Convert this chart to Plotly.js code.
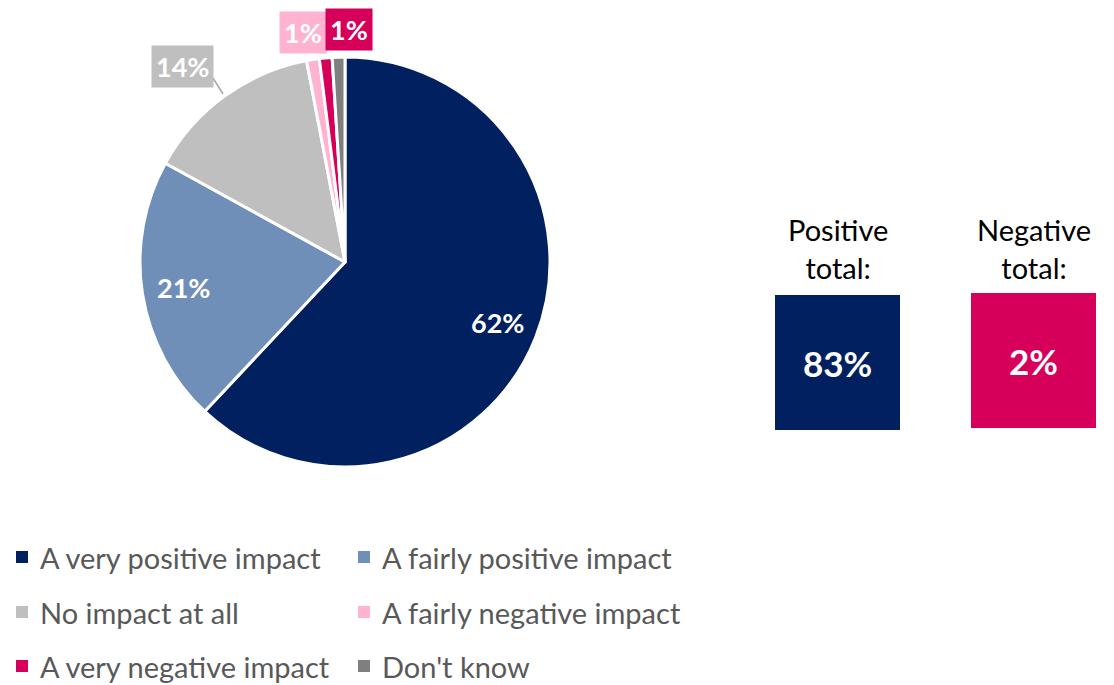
<!DOCTYPE html>
<html>
<head>
<meta charset="utf-8">
<script src="https://cdn.plot.ly/plotly-3.0.1.min.js"></script>
<style>html,body{margin:0;padding:0;background:#fff;}#chart{width:1114px;height:685px;}</style>
</head>
<body>
<div id="chart"></div>
<script>
const categories = ["A very positive impact","A fairly positive impact","No impact at all","A fairly negative impact","A very negative impact","Don't know"];
const values = [62, 21, 14, 1, 1, 1];
const colors = ["#002060","#6F8FB9","#BFBFBF","#FFB3D1","#D6005A","#7F7F7F"];
const sliceLabels = ["62%","21%","14%","1%","1%",""];
const totalTitles = ["Positive<br>total:","Negative<br>total:"];
const totalValues = ["83%","2%"];
const totalColors = ["#002060","#D6005A"];

const W = 1114, H = 685;
const px = x => x / W;
const py = y => 1 - y / H;
const FONT = "Lato, 'Noto Sans', sans-serif";

// pie geometry (pixels)
const pieL = 140, pieR = 550, pieT = 57, pieB = 467;
const cx = (pieL + pieR) / 2, cy = (pieT + pieB) / 2, rad = (pieR - pieL) / 2;

const trace = {
  type: "pie",
  labels: categories,
  values: values,
  textinfo: "none",
  sort: false,
  direction: "clockwise",
  rotation: 0,
  marker: {colors: colors, line: {color: "#ffffff", width: 3}},
  domain: {x: [px(pieL), px(pieR)], y: [py(pieB), py(pieT)]},
  hoverinfo: "label+percent",
  showlegend: false
};

const shapes = [];
const annotations = [];

// inside labels for the two large slices, placed at their mid-angle
const total = values.reduce((a, b) => a + b, 0);
let cum = 0;
values.forEach((v, i) => {
  const mid = (cum + v / 2) / total * 2 * Math.PI;
  cum += v;
  if (i < 2) {
    const r = 0.8 * rad;
    const x = cx + r * Math.sin(mid), y = cy - r * Math.cos(mid);
    annotations.push({xref: "paper", yref: "paper", x: px(x), y: py(y),
      xanchor: "center", yanchor: "middle", showarrow: false,
      text: "<b>" + sliceLabels[i] + "</b>",
      font: {color: "#ffffff", size: 27, family: FONT}});
  }
});

// outside labels with coloured boxes for the small slices
const outside = [
  {i: 2, x: 182, y: 66},
  {i: 3, x: 303, y: 32},
  {i: 4, x: 349, y: 30}
];
outside.forEach(o => {
  annotations.push({
    xref: "paper", yref: "paper", x: px(o.x), y: py(o.y),
    xanchor: "center", yanchor: "middle", showarrow: false,
    text: "<b>" + sliceLabels[o.i] + "</b>",
    font: {color: "#ffffff", size: 27, family: FONT},
    bgcolor: colors[o.i], borderpad: 4
  });
});
// leader line for 14%
shapes.push({type: "line", xref: "paper", yref: "paper",
  x0: px(213), y0: py(78), x1: px(223), y1: py(94),
  line: {color: "#A6A6A6", width: 1.5}});

// custom legend (two columns, three rows)
const legCols = [16, 358];
const legRows = [557, 612, 666];
categories.forEach((c, i) => {
  const col = i % 2, row = Math.floor(i / 2);
  const x = legCols[col], y = legRows[row];
  shapes.push({type: "rect", xref: "paper", yref: "paper",
    x0: px(x), x1: px(x + 12), y0: py(y + 6), y1: py(y - 6),
    fillcolor: colors[i], line: {width: 0}});
  annotations.push({xref: "paper", yref: "paper", x: px(x + 22), y: py(y),
    xanchor: "left", yanchor: "middle", showarrow: false,
    text: c, font: {color: "#595959", size: 29, family: FONT}});
});

// totals boxes
const boxX = [775, 971];
const boxTop = [295, 293];
totalValues.forEach((v, i) => {
  const x0 = boxX[i], x1 = x0 + 125, y0 = boxTop[i], y1 = y0 + 135;
  shapes.push({type: "rect", xref: "paper", yref: "paper",
    x0: px(x0), x1: px(x1), y0: py(y1), y1: py(y0),
    fillcolor: totalColors[i], line: {width: 0}});
  annotations.push({xref: "paper", yref: "paper", x: px((x0 + x1) / 2), y: py((y0 + y1) / 2),
    xanchor: "center", yanchor: "middle", showarrow: false,
    text: "<b>" + v + "</b>", font: {color: "#ffffff", size: 35, family: FONT}});
  annotations.push({xref: "paper", yref: "paper", x: px((x0 + x1) / 2), y: py(248),
    xanchor: "center", yanchor: "middle", showarrow: false,
    text: totalTitles[i], font: {color: "#000000", size: 29, family: FONT}});
});

const layout = {
  width: W, height: H,
  margin: {l: 0, r: 0, t: 0, b: 0},
  paper_bgcolor: "#ffffff", plot_bgcolor: "#ffffff",
  showlegend: false,
  shapes: shapes,
  annotations: annotations,
  font: {family: FONT}
};

Plotly.newPlot("chart", [trace], layout, {displayModeBar: false, staticPlot: true});
</script>
</body>
</html>
